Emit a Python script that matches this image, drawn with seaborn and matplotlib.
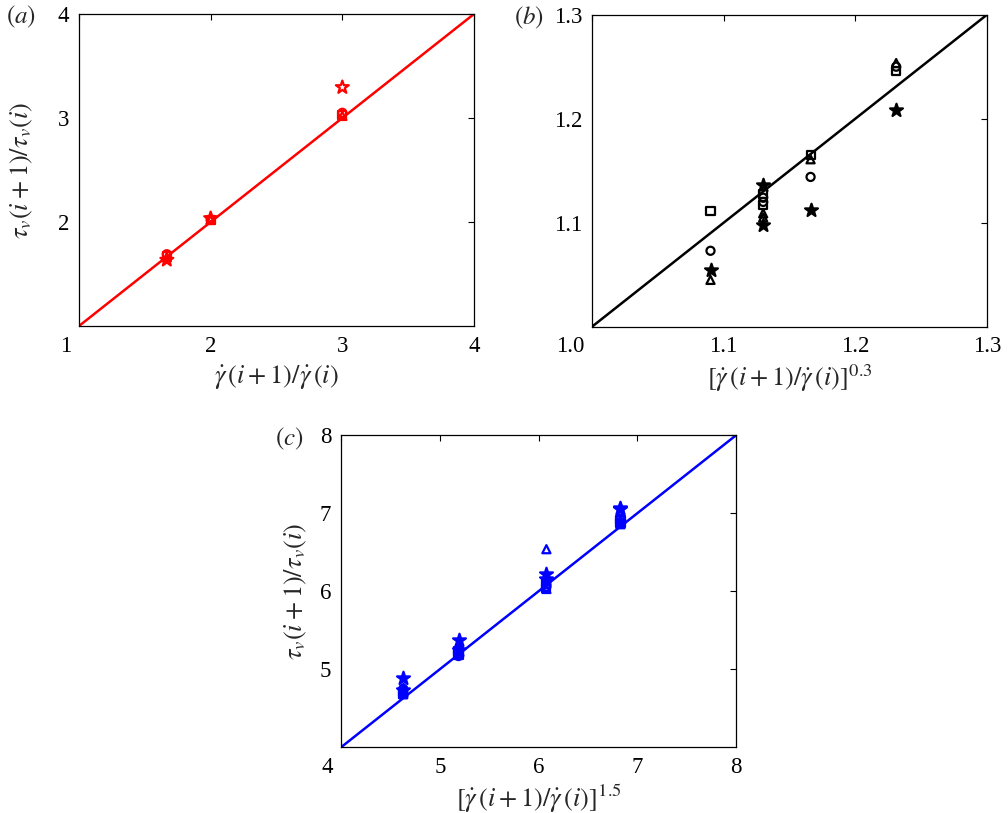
import pandas as pd
import numpy as np
import seaborn as sns
import matplotlib
matplotlib.use("Agg")
import matplotlib.pyplot as plt
from matplotlib.transforms import ScaledTranslation

# Panel (a): shear-rate ratio vs relaxation-time ratio
a_x = [1.667, 2.0, 3.0]
a_circle = [1.69, 2.02, 3.05]
a_square = [1.67, 2.015, 3.03]
a_triangle = [1.66, 2.02, 3.02]
a_star = [1.635, 2.035, 3.295]

# Panel (b): exponent 0.3
b_x = [1.090, 1.130, 1.130, 1.166, 1.231]
b_circle = [1.073, 1.124, 1.120, 1.144, 1.250]
b_square = [1.111, 1.128, 1.117, 1.165, 1.246]
b_triangle = [1.045, 1.109, 1.105, 1.161, 1.2535]
b_star = [1.055, 1.136, 1.098, 1.112, 1.2085]

# Panel (c): exponent 1.5
c_x = [4.63, 4.63, 5.19, 5.19, 6.08, 6.08, 6.83, 6.83]
c_circle = [4.75, 4.72, 5.22, 5.17, 6.12, 6.06, 6.93, 6.89]
c_square = [4.71, 4.69, 5.24, 5.19, 6.10, 6.04, 6.91, 6.87]
c_triangle = [4.70, 4.68, 5.31, 5.21, 6.54, 6.03, 6.90, 6.86]
c_star = [4.89, 4.73, 5.37, 5.25, 6.22, 6.16, 7.07, 7.05]

a_ticks = [1, 2, 3, 4]
b_ticks = [1.0, 1.1, 1.2, 1.3]
c_ticks = [4, 5, 6, 7, 8]

sns.set_style("white")
plt.rcParams['font.family'] = ['Liberation Serif', 'DejaVu Serif']
plt.rcParams['mathtext.fontset'] = 'stix'
plt.rcParams['font.size'] = 16


def make_df(x, circle, square, triangle, star):
    frames = []
    for kind, vals in [('circle', circle), ('square', square),
                       ('triangle', triangle), ('star', star)]:
        frames.append(pd.DataFrame({'x': x, 'y': vals, 'kind': kind}))
    return pd.concat(frames, ignore_index=True)


marker_of = {'circle': 'o', 'square': 's', 'triangle': '^', 'star': '*'}


def draw_panel(ax, df, color, ticks, fmt, star_filled, letter, xlabel, ylabel=None):
    lo, hi = ticks[0], ticks[-1]
    ax.axline((lo, lo), slope=1, color=color, lw=1.8, zorder=1)
    for kind in ['circle', 'square', 'triangle', 'star']:
        sub = df[df['kind'] == kind]
        filled = kind == 'star' and star_filled
        size = 95 if kind == 'star' else 34
        sns.scatterplot(data=sub, x='x', y='y', ax=ax, marker=marker_of[kind], s=size,
                        facecolor=color if filled else 'none', edgecolor=color,
                        linewidth=1.6, zorder=3, legend=False)
    ax.set_xlim(lo, hi)
    ax.set_ylim(lo, hi)
    ax.set_xticks(ticks)
    ax.set_xticklabels([fmt.format(t) for t in ticks])
    ax.set_yticks(ticks[1:])
    ax.set_yticklabels([fmt.format(t) for t in ticks[1:]])
    ax.tick_params(direction='in', top=True, right=True, length=4, width=0.8,
                   labelsize=16.5, pad=7, colors='black')
    for sp in ax.spines.values():
        sp.set_color('black')
        sp.set_linewidth(0.9)
    # corner label sits left of the corner
    first = ax.get_xticklabels()[0]
    first.set_horizontalalignment('right')
    first.set_transform(first.get_transform() + ScaledTranslation(-0.08, 0, ax.figure.dpi_scale_trans))
    ax.set_xlabel(xlabel, fontsize=19, va='center')
    ax.xaxis.set_label_coords(0.5, -0.165)
    if ylabel:
        ax.set_ylabel(ylabel, fontsize=19, va='center')
    else:
        ax.set_ylabel('')
    ax.text(-0.16, 1.0, letter, transform=ax.transAxes, fontsize=18,
            ha='center', va='center')


fig = plt.figure(figsize=(10.08, 8.13), dpi=100)
W, H = 395 / 1008, 312 / 813
ax_a = fig.add_axes([79 / 1008, 1 - 326 / 813, W, H])
ax_b = fig.add_axes([592 / 1008, 1 - 326.7 / 813, W, H])
ax_c = fig.add_axes([341 / 1008, 1 - 747.3 / 813, W, H])

xl_a = r'$\dot{\gamma}\,(i+1)/\dot{\gamma}\,(i)$'
xl_b = r'$[\dot{\gamma}\,(i+1)/\dot{\gamma}\,(i)]^{0.3}$'
xl_c = r'$[\dot{\gamma}\,(i+1)/\dot{\gamma}\,(i)]^{1.5}$'
yl = r'$\tau_v(i+1)/\tau_v(i)$'

draw_panel(ax_a, make_df(a_x, a_circle, a_square, a_triangle, a_star), '#ff0000',
           a_ticks, '{:g}', False, r'$(a)$', xl_a, yl)
draw_panel(ax_b, make_df(b_x, b_circle, b_square, b_triangle, b_star), 'black',
           b_ticks, '{:.1f}', True, r'$(b)$', xl_b)
draw_panel(ax_c, make_df(c_x, c_circle, c_square, c_triangle, c_star), '#0000ff',
           c_ticks, '{:g}', True, r'$(c)$', xl_c, yl)

ax_a.yaxis.set_label_coords(-0.145, 0.5)
ax_c.yaxis.set_label_coords(-0.115, 0.5)
ax_a.texts[0].set_position((-0.148, 0.99))
ax_b.texts[0].set_position((-0.16, 0.99))
ax_c.texts[0].set_position((-0.132, 0.99))

fig.savefig('out.png', dpi=100)
